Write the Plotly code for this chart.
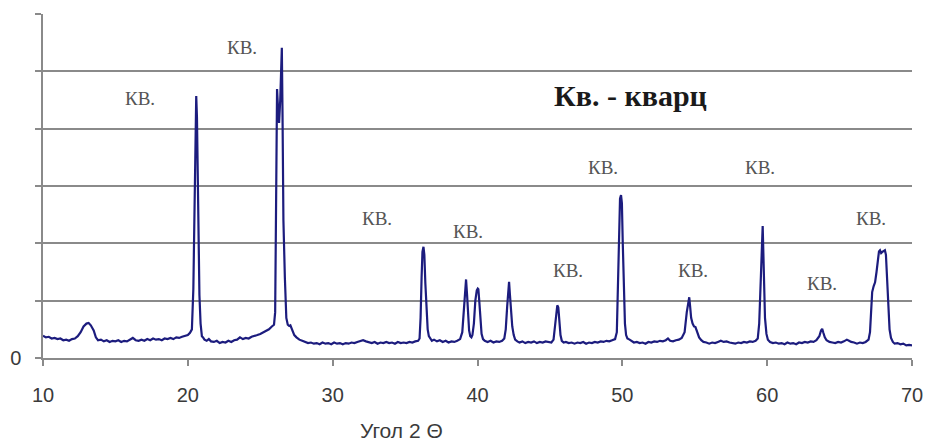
import plotly.graph_objects as go

# Diffractogram: angle 2-theta (degrees) and intensity (arb. units)
two_theta = [
    10.0, 10.2, 10.4, 10.6, 10.8, 11.0, 11.2, 11.4, 11.6, 11.8, 12.0, 12.2, 12.4, 12.6, 12.8,
    13.0, 13.15, 13.3, 13.5, 13.65, 13.8, 14.0, 14.2, 14.4, 14.6, 14.8, 15.0, 15.2, 15.4, 15.6,
    15.8, 16.0, 16.2, 16.4, 16.6, 16.8, 17.0, 17.2, 17.4, 17.6, 17.8, 18.0, 18.2, 18.4, 18.6,
    18.8, 19.0, 19.2, 19.4, 19.6, 19.8, 20.0, 20.15, 20.28, 20.38, 20.45, 20.52, 20.58, 20.63,
    20.67, 20.72, 20.8, 20.88, 20.97, 21.05, 21.15, 21.3, 21.45, 21.6, 21.8, 22.0, 22.2, 22.4,
    22.6, 22.8, 23.0, 23.2, 23.4, 23.6, 23.8, 24.0, 24.2, 24.4, 24.6, 24.8, 25.0, 25.2, 25.4,
    25.6, 25.8, 25.95, 26.03, 26.08, 26.12, 26.16, 26.22, 26.3, 26.38, 26.45, 26.49, 26.54,
    26.6, 26.7, 26.8, 26.9, 27.0, 27.08, 27.2, 27.35, 27.5, 27.7, 27.9, 28.1, 28.3, 28.5, 28.7,
    28.9, 29.1, 29.3, 29.5, 29.7, 29.9, 30.1, 30.3, 30.5, 30.7, 30.9, 31.1, 31.3, 31.5, 31.7,
    31.9, 32.1, 32.3, 32.5, 32.7, 32.9, 33.1, 33.3, 33.5, 33.7, 33.9, 34.1, 34.3, 34.5, 34.7,
    34.9, 35.1, 35.3, 35.5, 35.7, 35.9, 36.0, 36.07, 36.14, 36.2, 36.27, 36.33, 36.4, 36.48,
    36.56, 36.64, 36.72, 36.85, 37.0, 37.2, 37.4, 37.6, 37.8, 38.0, 38.2, 38.4, 38.6, 38.8,
    38.95, 39.05, 39.12, 39.18, 39.21, 39.28, 39.35, 39.42, 39.5, 39.58, 39.65, 39.75, 39.85,
    39.95, 40.02, 40.06, 40.12, 40.2, 40.28, 40.38, 40.5, 40.7, 40.9, 41.1, 41.3, 41.5, 41.7,
    41.85, 41.95, 42.05, 42.12, 42.18, 42.24, 42.32, 42.4, 42.5, 42.6, 42.75, 42.9, 43.1, 43.3,
    43.5, 43.7, 43.9, 44.1, 44.3, 44.5, 44.7, 44.9, 45.1, 45.25, 45.35, 45.43, 45.51, 45.58,
    45.65, 45.73, 45.82, 45.95, 46.1, 46.3, 46.5, 46.7, 46.9, 47.1, 47.3, 47.5, 47.7, 47.9,
    48.1, 48.3, 48.5, 48.7, 48.9, 49.1, 49.3, 49.5, 49.62, 49.7, 49.77, 49.84, 49.91, 49.97,
    50.03, 50.1, 50.18, 50.26, 50.35, 50.5, 50.65, 50.8, 51.0, 51.2, 51.4, 51.6, 51.8, 52.0,
    52.2, 52.4, 52.6, 52.8, 53.0, 53.15, 53.3, 53.5, 53.7, 53.9, 54.1, 54.3, 54.45, 54.55,
    54.62, 54.68, 54.75, 54.85, 54.95, 55.05, 55.15, 55.3, 55.45, 55.6, 55.8, 56.0, 56.2, 56.4,
    56.6, 56.8, 57.0, 57.2, 57.4, 57.6, 57.8, 58.0, 58.2, 58.4, 58.6, 58.8, 59.0, 59.2, 59.35,
    59.45, 59.52, 59.58, 59.63, 59.66, 59.69, 59.73, 59.78, 59.85, 59.95, 60.05, 60.2, 60.4,
    60.6, 60.8, 61.0, 61.2, 61.4, 61.6, 61.8, 62.0, 62.2, 62.4, 62.6, 62.8, 63.0, 63.2, 63.4,
    63.6, 63.72, 63.8, 63.88, 63.98, 64.1, 64.3, 64.5, 64.7, 64.9, 65.1, 65.3, 65.5, 65.65,
    65.8, 66.0, 66.2, 66.4, 66.6, 66.8, 67.0, 67.1, 67.18, 67.25, 67.35, 67.45, 67.55, 67.65,
    67.72, 67.79, 67.87, 67.95, 68.05, 68.13, 68.2, 68.27, 68.35, 68.45, 68.55, 68.68, 68.8,
    69.0, 69.2, 69.4, 69.6, 69.8, 70.0,
]
intensity = [
    39, 36, 37, 34, 35, 33, 34, 31, 32, 30, 33, 34, 38, 45, 55,
    60, 61, 57, 48, 36, 31, 32, 29, 31, 28, 30, 29, 31, 28, 30,
    29, 32, 35, 31, 30, 32, 30, 33, 31, 34, 32, 33, 31, 34, 33,
    35, 33, 36, 35, 37, 38, 40, 44, 50, 120, 260, 400, 457, 420,
    334, 220, 110, 60, 38, 36, 32, 30, 33, 29, 28, 30, 26, 28,
    27, 30, 28, 31, 32, 36, 33, 35, 34, 37, 38, 40, 42, 45, 47,
    50, 55, 58, 80, 300, 440, 469, 440, 410, 450, 530, 541, 420,
    240, 140, 70, 58, 56, 57, 48, 40, 36, 32, 30, 28, 26, 27, 25,
    26, 24, 27, 25, 26, 24, 27, 25, 26, 24, 26, 25, 27, 26, 28,
    30, 31, 29, 27, 26, 28, 25, 27, 26, 28, 26, 27, 25, 28, 26,
    27, 26, 28, 27, 29, 30, 34, 70, 140, 185, 194, 180, 130, 80,
    50, 38, 34, 30, 32, 29, 31, 28, 30, 27, 29, 28, 30, 33,
    45, 80, 120, 135, 137, 110, 70, 48, 38, 36, 40, 60, 100,
    118, 121, 120, 100, 65, 42, 33, 30, 28, 30, 27, 29, 28, 30,
    34, 50, 90, 125, 133, 110, 80, 55, 40, 32, 29, 27, 29, 26,
    28, 27, 29, 26, 28, 27, 29, 28, 27, 32, 55, 85, 92, 88,
    65, 40, 30, 27, 28, 26, 27, 25, 27, 26, 28, 25, 27, 26,
    28, 27, 29, 28, 30, 29, 31, 33, 45, 120, 230, 278, 284, 270,
    200, 110, 60, 40, 34, 32, 30, 27, 28, 26, 27, 25, 28, 27,
    29, 28, 30, 29, 31, 34, 30, 29, 31, 32, 35, 45, 80, 100,
    106, 90, 70, 60, 55, 54, 45, 36, 31, 28, 27, 25, 27, 26,
    28, 30, 28, 29, 27, 26, 25, 27, 26, 28, 27, 29, 28, 30, 34,
    60, 110, 150, 160, 200, 230, 190, 120, 70, 42, 32, 28, 26,
    27, 25, 26, 24, 27, 25, 26, 24, 27, 26, 28, 27, 29, 28, 31,
    38, 48, 51, 44, 36, 31, 28, 27, 26, 28, 27, 29, 32, 30,
    28, 27, 25, 27, 26, 28, 32, 45, 90, 115, 125, 132, 150, 175,
    186, 188, 183, 185, 187, 188, 180, 140, 90, 50, 35, 28, 25,
    26, 24, 25, 22, 23, 22,
]

# Peak labels (quartz reflections)
label_text = "КВ."
label_x = [16.72, 23.75, 33.05, 39.37, 46.26, 48.65, 54.9, 59.5, 63.76, 67.14]
label_y = [453, 542, 243, 220, 153, 333, 153, 333, 130, 243]

legend_text = "Кв. - кварц"
legend_x = 50.55
legend_y = 458

x_ticks = [10, 20, 30, 40, 50, 60, 70]
y_ticks = [0, 100, 200, 300, 400, 500, 600]
y_tick_text = ["0", "", "", "", "", "", ""]
x_title = "Угол 2 Θ"

GRID = "#8a8a8a"
TEXT = "#3a3a3a"

fig = go.Figure()
fig.add_trace(go.Scatter(
    x=two_theta, y=intensity, mode="lines",
    line=dict(color="#1c1c7e", width=2.2),
    hoverinfo="skip", showlegend=False,
))

for lx, ly in zip(label_x, label_y):
    fig.add_annotation(
        x=lx, y=ly, text=label_text, showarrow=False,
        font=dict(family="Liberation Serif, Times New Roman, serif", size=19, color="#555555"),
        xanchor="center", yanchor="middle",
    )

fig.add_annotation(
    x=legend_x, y=legend_y, text="<b>" + legend_text + "</b>", showarrow=False,
    font=dict(family="Liberation Serif, Times New Roman, serif", size=30, color="#1a1a1a"),
    xanchor="center", yanchor="middle",
)

fig.add_annotation(
    xref="paper", yref="paper", x=0.413, y=-0.212, text=x_title, showarrow=False,
    font=dict(family="Liberation Sans, Arial, sans-serif", size=21, color=TEXT),
    xanchor="center", yanchor="middle",
)

fig.update_layout(
    width=930, height=443,
    margin=dict(l=43, r=18, t=14, b=85, pad=0),
    paper_bgcolor="white", plot_bgcolor="white",
    font=dict(family="Liberation Sans, Arial, sans-serif", size=20, color=TEXT),
)
fig.update_xaxes(
    range=[10, 70], tickvals=x_ticks, showgrid=False, zeroline=False, automargin=False,
    showline=True, linecolor=GRID, linewidth=1.5,
    ticks="outside", ticklen=6, tickcolor=GRID, tickwidth=1.5,
    ticklabelstandoff=12, tickfont=dict(size=20, color=TEXT),
)
fig.update_yaxes(
    range=[0, 600], tickvals=y_ticks, ticktext=y_tick_text, automargin=False,
    showgrid=True, gridcolor=GRID, gridwidth=1.5, zeroline=False,
    showline=True, linecolor=GRID, linewidth=1.5,
    ticks="outside", ticklen=6, tickcolor=GRID, tickwidth=1.5,
    ticklabelstandoff=10, tickfont=dict(size=20, color=TEXT),
)

fig.write_html("out.html", config={"displayModeBar": False})
